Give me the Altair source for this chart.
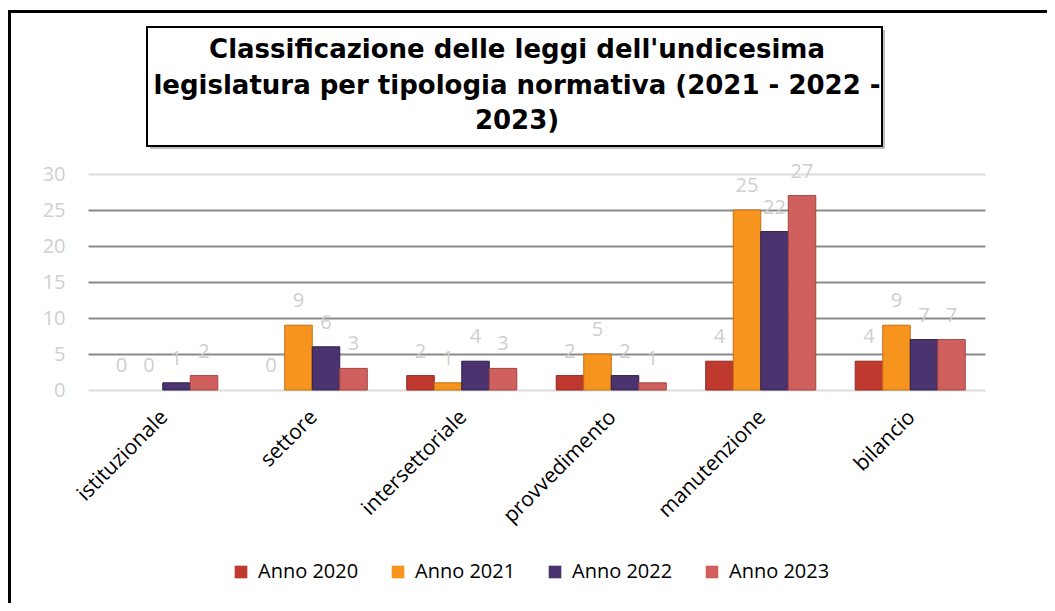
import altair as alt
import pandas as pd

categories = ["istituzionale", "settore", "intersettoriale", "provvedimento", "manutenzione", "bilancio"]
years = ["Anno 2020", "Anno 2021", "Anno 2022", "Anno 2023"]
anno_2020 = [0, 0, 2, 2, 4, 4]
anno_2021 = [0, 9, 1, 5, 25, 9]
anno_2022 = [1, 6, 4, 2, 22, 7]
anno_2023 = [2, 3, 3, 1, 27, 7]
y_ticks = [0, 5, 10, 15, 20, 25, 30]
title_lines = [
    "Classificazione delle leggi dell'undicesima",
    "legislatura per tipologia normativa (2021 - 2022 -",
    "2023)",
]
fill_colors = ["#C0392F", "#F7941D", "#4B3370", "#D0605D"]
edge_colors = ["#8E2A22", "#C06F15", "#2E1F47", "#A0453F"]

rows = []
for yr, vals in zip(years, [anno_2020, anno_2021, anno_2022, anno_2023]):
    for c, v in zip(categories, vals):
        rows.append({"categoria": c, "anno": yr, "valore": v})
df = pd.DataFrame(rows)
one = pd.DataFrame({"k": [0]})

FONT = "Open Sans"

y_axis = alt.Axis(
    values=y_ticks, title=None, grid=True, domain=False, ticks=False,
    gridColor={"condition": {"test": "datum.value == 0 || datum.value == 30", "value": "#dcdcdc"},
               "value": "#8a8a8a"},
    gridWidth=2,
    labelFontSize=20, labelColor="#cfcfcf", labelFont=FONT, labelPadding=23,
    labelOverlap=False,
)
y_scale = alt.Scale(domain=[0, 30], nice=False)

x_axis = alt.Axis(
    title=None, labelAngle=-45, labelFontSize=21, labelColor="black",
    labelFont=FONT, ticks=False, domain=False, labelPadding=16, labelOffset=-6,
)
x_enc = alt.X(
    "categoria:N",
    sort=categories,
    scale=alt.Scale(paddingInner=0.264, paddingOuter=0.132),
    axis=x_axis,
)
xoff = alt.XOffset("anno:N", sort=years, scale=alt.Scale(paddingInner=0, paddingOuter=0))

outer = alt.Chart(one).mark_rect(fillOpacity=0, stroke="black", strokeWidth=3).encode(
    x=alt.value(-78.5), x2=alt.value(1100), y=alt.value(-162.5), y2=alt.value(1000)
)

bars = alt.Chart(df).mark_bar(strokeWidth=1).encode(
    x=x_enc,
    xOffset=xoff,
    y=alt.Y("valore:Q", axis=y_axis, scale=y_scale),
    color=alt.Color(
        "anno:N", sort=years,
        scale=alt.Scale(domain=years, range=fill_colors),
        legend=alt.Legend(
            title=None, orient="none", legendX=143, legendY=388, direction="horizontal",
            symbolType="square", symbolSize=160, symbolStrokeWidth=0,
            labelFontSize=20, labelFont=FONT, labelColor="black",
            columnPadding=29, labelOffset=7,
        ),
    ),
    stroke=alt.Stroke("anno:N", sort=years, scale=alt.Scale(domain=years, range=edge_colors), legend=None),
    strokeOpacity=alt.condition("datum.valore > 0", alt.value(1), alt.value(0)),
)

labels = alt.Chart(df).mark_text(
    baseline="bottom", dy=-14, fontSize=20, font=FONT, color="#cfcfcf"
).encode(
    x=x_enc,
    xOffset=xoff,
    y=alt.Y("valore:Q", axis=y_axis, scale=y_scale),
    text=alt.Text("valore:Q"),
)

title_shadow = alt.Chart(one).mark_rect(fill="#bdbdbd").encode(
    x=alt.value(62), x2=alt.value(797), y=alt.value(-144), y2=alt.value(-25)
)

title_box = alt.Chart(one).mark_rect(fill="white", stroke="black", strokeWidth=2).encode(
    x=alt.value(59), x2=alt.value(794), y=alt.value(-147), y2=alt.value(-28)
)

title_text = alt.Chart(one).mark_text(
    align="center", baseline="alphabetic", fontSize=26, fontWeight="bold",
    font="DejaVu Sans", color="black", lineHeight=35.5,
).encode(x=alt.value(429), y=alt.value(-116), text=alt.value(title_lines))

chart = alt.layer(outer, bars, labels, title_shadow, title_box, title_text).properties(
    width=897, height=216,
    background="white",
    padding={"left": 80, "top": 166, "right": 62, "bottom": 213},
    autosize=alt.AutoSizeParams(type="none"),
).configure_view(stroke=None)

chart.save("out.html", embed_options={"renderer": "svg", "actions": False})
